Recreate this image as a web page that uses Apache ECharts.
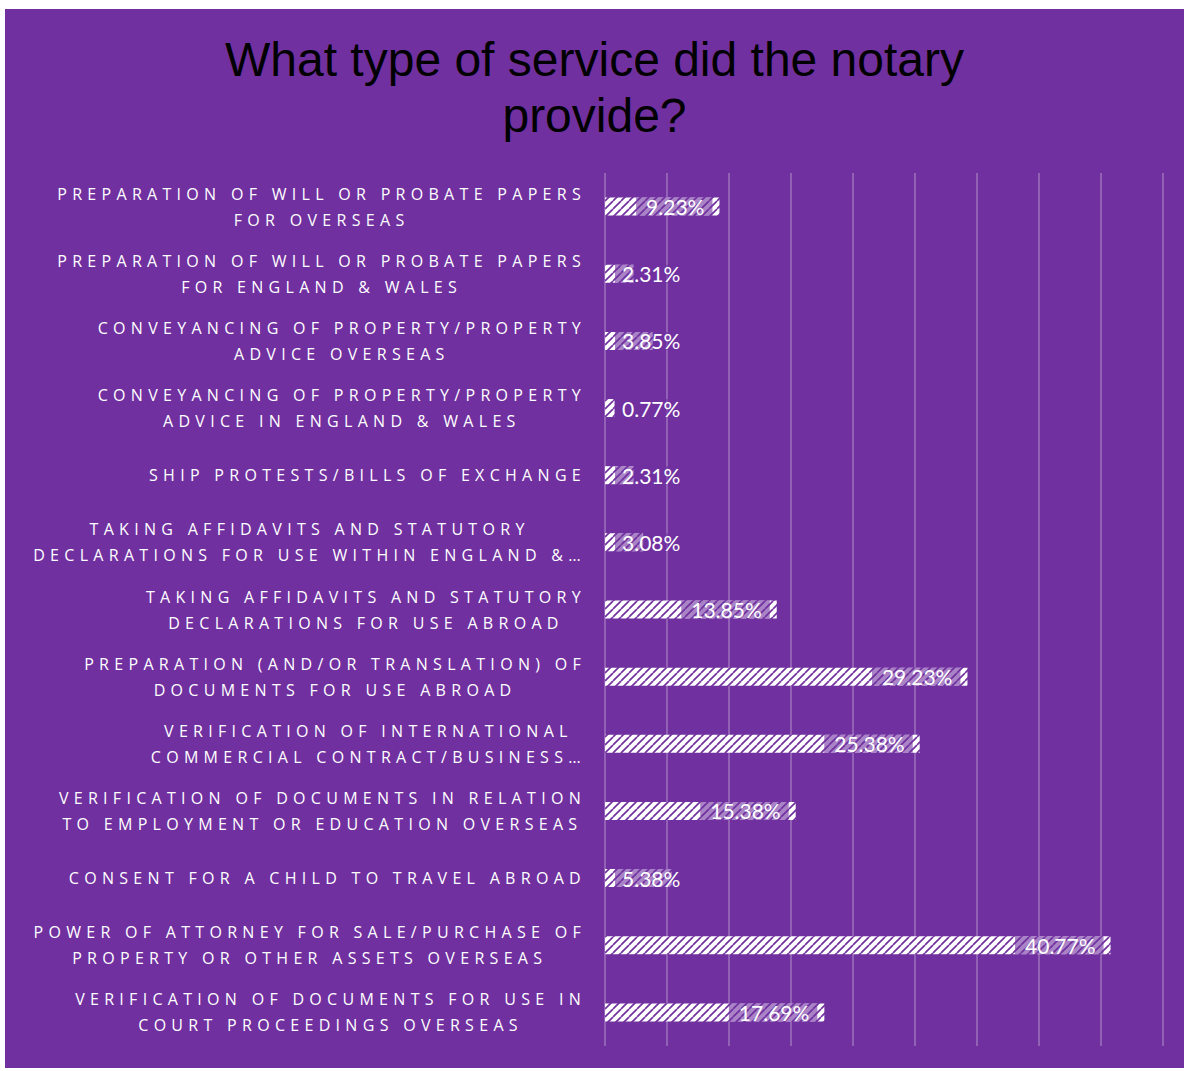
<!DOCTYPE html>
<html>
<head>
<meta charset="utf-8">
<script src="https://cdn.jsdelivr.net/npm/echarts@6/dist/echarts.min.js"></script>
<style>
  html, body { margin: 0; padding: 0; background: #fff; }
  #chart { position: absolute; left: 5px; top: 9px; width: 1179px; height: 1059px; }
  /* the category labels are widely letter-spaced */
  #chart text[style*="Open Sans"] { letter-spacing: 5.3px; }
</style>
</head>
<body>
<div id="chart"></div>
<script>
const titleText = 'What type of service did the notary\nprovide?';

const categories = [
  'PREPARATION OF WILL OR PROBATE PAPERS\nFOR OVERSEAS',
  'PREPARATION OF WILL OR PROBATE PAPERS\nFOR ENGLAND & WALES',
  'CONVEYANCING OF PROPERTY/PROPERTY\nADVICE OVERSEAS',
  'CONVEYANCING OF PROPERTY/PROPERTY\nADVICE IN ENGLAND & WALES',
  'SHIP PROTESTS/BILLS OF EXCHANGE',
  'TAKING AFFIDAVITS AND STATUTORY\nDECLARATIONS FOR USE WITHIN ENGLAND &\u2026',
  'TAKING AFFIDAVITS AND STATUTORY\nDECLARATIONS FOR USE ABROAD',
  'PREPARATION (AND/OR TRANSLATION) OF\nDOCUMENTS FOR USE ABROAD',
  'VERIFICATION OF INTERNATIONAL\nCOMMERCIAL CONTRACT/BUSINESS\u2026',
  'VERIFICATION OF DOCUMENTS IN RELATION\nTO EMPLOYMENT OR EDUCATION OVERSEAS',
  'CONSENT FOR A CHILD TO TRAVEL ABROAD',
  'POWER OF ATTORNEY FOR SALE/PURCHASE OF\nPROPERTY OR OTHER ASSETS OVERSEAS',
  'VERIFICATION OF DOCUMENTS FOR USE IN\nCOURT PROCEEDINGS OVERSEAS'
];

const shares = [9.23, 2.31, 3.85, 0.77, 2.31, 3.08, 13.85, 29.23, 25.38, 15.38, 5.38, 40.77, 17.69];

const PURPLE = '#7030A0';
const LABEL_FONT = 'Open Sans';
const SPACING = 5.3;

// make echarts measure the spaced-out labels the same way the browser draws them
const measureCtx = document.createElement('canvas').getContext('2d');
if (echarts.setPlatformAPI) {
  echarts.setPlatformAPI({
    measureText(text, font) {
      measureCtx.font = font || '12px sans-serif';
      let w = measureCtx.measureText(text).width;
      if (font && font.indexOf(LABEL_FONT) >= 0) w += SPACING * Array.from(text).length;
      return { width: w };
    }
  });
}

// white bar with thin purple "/" hatching
function hatch() {
  const c = document.createElement('canvas');
  c.width = 8; c.height = 8;
  const ctx = c.getContext('2d');
  ctx.fillStyle = '#fff';
  ctx.fillRect(0, 0, 8, 8);
  ctx.strokeStyle = PURPLE;
  ctx.lineWidth = 1.7;
  for (const k of [-8, 0, 8]) {
    ctx.beginPath();
    ctx.moveTo(k, 8);
    ctx.lineTo(k + 8, 0);
    ctx.stroke();
  }
  return c;
}

const barData = shares.map(v => {
  const small = v < 7;
  return {
    value: v,
    label: small
      ? { position: 'insideLeft', distance: 10, padding: [0, 2, 0, 7] }
      : { position: 'insideRight', distance: 7, padding: [0, 8, 0, 10] }
  };
});

const chart = echarts.init(document.getElementById('chart'), null, { renderer: 'svg' });
chart.setOption({
  backgroundColor: PURPLE,
  animation: false,
  title: {
    text: titleText,
    left: 'center',
    top: 22,
    padding: [0, 0, 0, 8],
    textStyle: {
      fontFamily: 'Liberation Sans',
      fontSize: 48,
      fontWeight: 'normal',
      color: '#000',
      lineHeight: 56
    }
  },
  grid: { left: 600, right: 21, top: 164, bottom: 22 },
  xAxis: {
    type: 'value',
    min: 0,
    max: 45,
    interval: 5,
    axisLabel: { show: false },
    axisLine: { show: false },
    axisTick: { show: false },
    splitLine: { lineStyle: { color: 'rgba(255,255,255,0.32)', width: 1.5 } }
  },
  yAxis: {
    type: 'category',
    inverse: true,
    data: categories,
    axisLine: { show: false },
    axisTick: { show: false },
    axisLabel: {
      margin: 19,
      align: 'right',
      formatter: v => v.split('\n').map(l => '{c|' + l + '}').join('\n'),
      rich: {
        c: {
          align: 'center',
          fontFamily: LABEL_FONT,
          fontSize: 16,
          color: '#fff',
          lineHeight: 26
        }
      }
    }
  },
  series: [{
    type: 'bar',
    data: barData,
    barWidth: 18,
    itemStyle: { color: { image: hatch(), repeat: 'repeat', imageWidth: 8, imageHeight: 8 } },
    label: {
      show: true,
      formatter: p => p.value.toFixed(2) + '%',
      fontFamily: 'Lato',
      fontSize: 21,
      color: '#fff',
      lineHeight: 18,
      backgroundColor: 'rgba(112,48,160,0.6)'
    }
  }]
});
</script>
</body>
</html>
